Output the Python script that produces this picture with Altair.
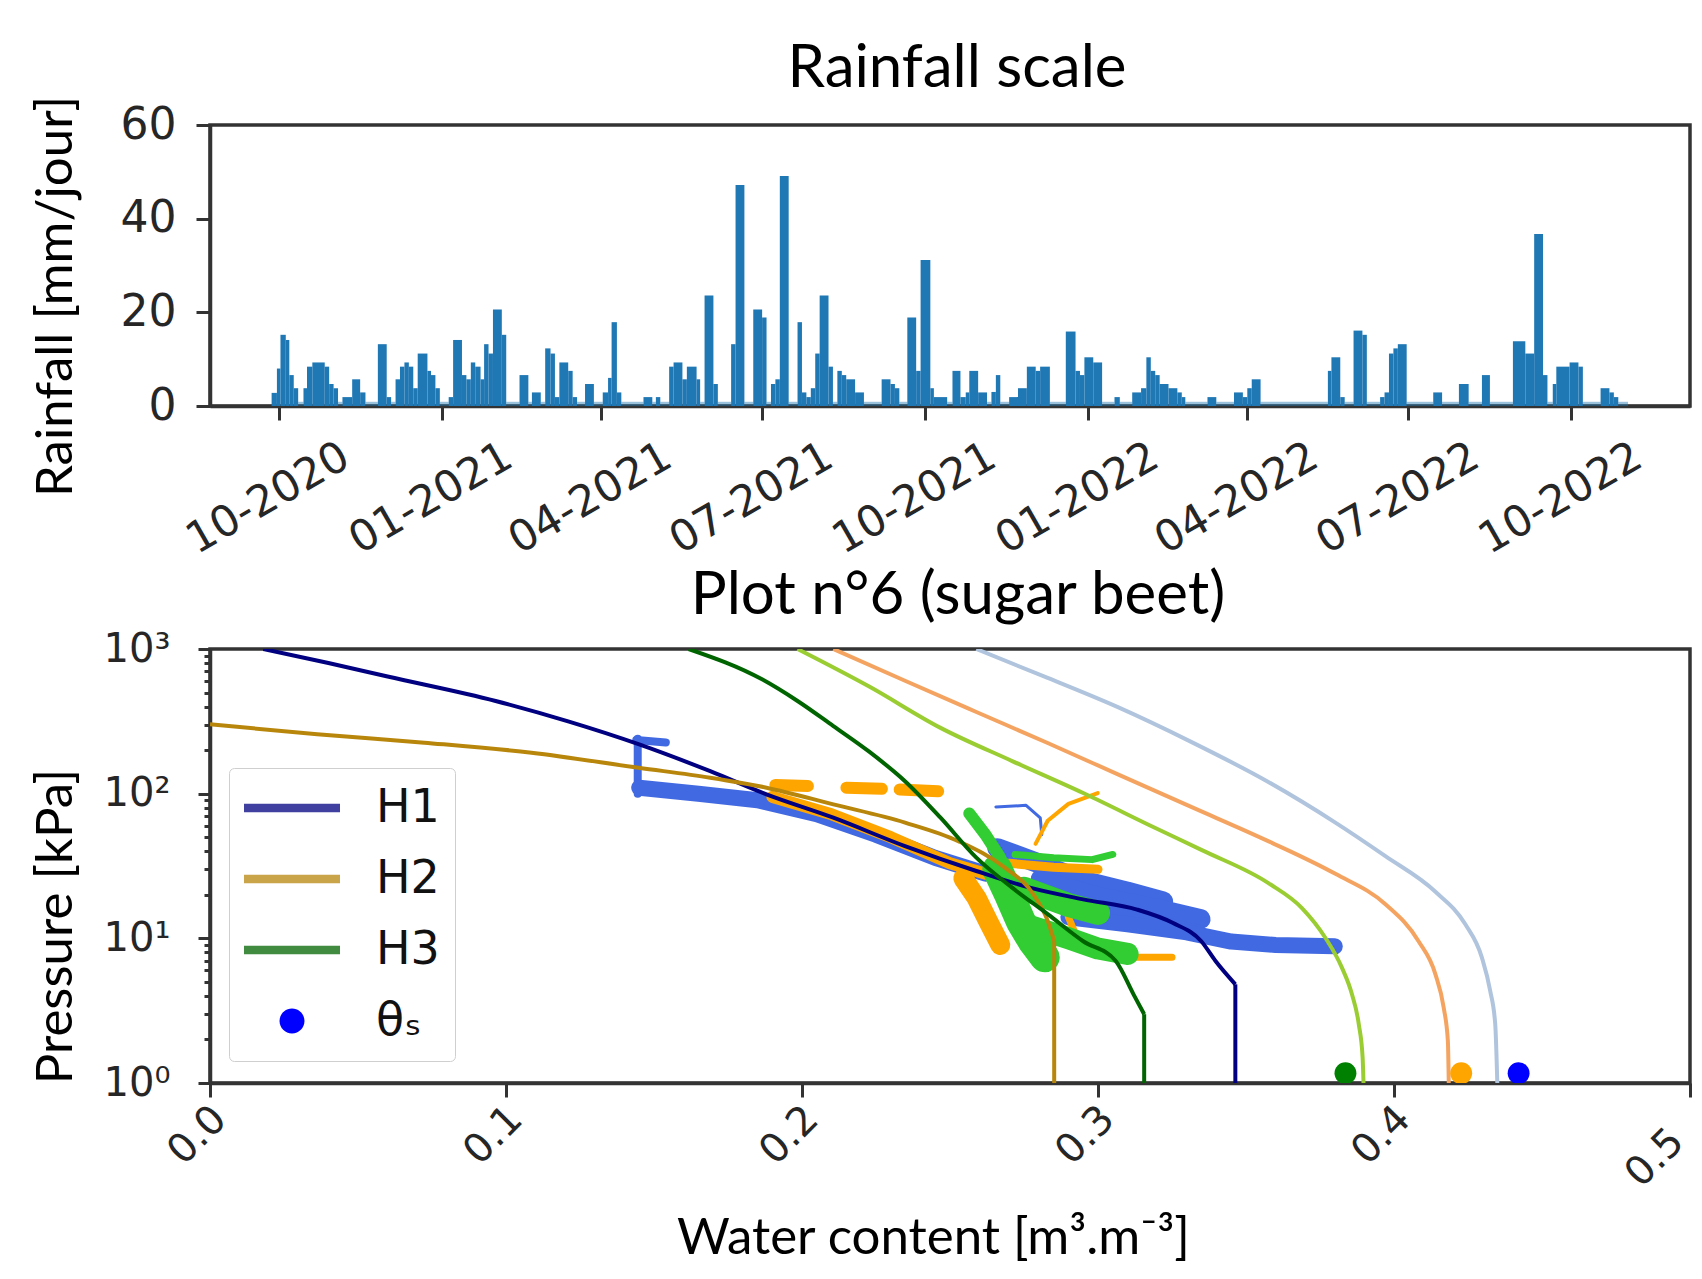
import altair as alt
import pandas as pd

# ---------------- Rainfall (top panel) ----------------
RAIN_ORIGIN = "2020-10-01"
# segment edges in days since RAIN_ORIGIN (n+1 values) and daily rainfall of each segment (n values)
rain_edges = [-4, -1, 1, 4, 6, 8.5, 11, 14, 16, 19, 26, 28.5, 31, 33.5, 36, 41.5, 46, 49, 56, 61,
              63.5, 66, 68.5, 71, 73.5, 76, 78.5, 84, 86, 88.5, 91, 96, 98.5, 103.5, 106, 108.5, 111,
              114, 116, 118.5, 121, 126, 128.5, 136, 141, 143, 148, 150.5, 153.5, 156, 158.5, 163.5,
              166, 168.5, 173, 178, 183, 186, 188, 191, 193.5, 206, 211, 213, 215.5, 220.5, 223, 228,
              230.5, 236, 238, 240.5, 245.5, 248, 255.5, 258, 263, 268, 273, 275.5, 278, 280.5, 283,
              288, 293, 295.5, 298, 300.5, 303, 305.5, 310.5, 313, 315.5, 318, 320.5, 325.5, 330.5,
              340.5, 345.5, 348, 350.5, 355, 360, 362.5, 368, 370, 377.5, 380.5, 385, 388, 390, 395,
              400, 402.5, 405, 407.5, 412.5, 417.5, 422.5, 427.5, 430, 435.5, 444.5, 450, 452.5, 455,
              460, 465, 472, 475, 482, 487, 490, 492.5, 495, 497.5, 502.5, 507.5, 510, 512, 524.5,
              529.5, 539.5, 544.5, 547, 549.5, 554.5, 592.5, 594.5, 599.5, 602, 607, 612, 614.5, 622,
              624.5, 627, 629.5, 632, 637, 652, 657, 666.5, 672, 679.5, 684, 697, 704, 709, 714,
              716.5, 719.5, 721.5, 729, 734, 736.5, 746.5, 751.5, 754, 756.5, 762]
rain_mm = [2.8, 8.0, 15.2, 14.1, 6.6, 3.8, 0.9, 3.8, 8.4, 9.3, 8.4, 4.7, 3.8, 0.9, 1.9, 5.7, 2.9, 0.9,
           13.2, 1.9, 0.9, 5.7, 8.4, 9.3, 8.4, 3.8, 11.2, 7.5, 6.6, 3.8, 0.9, 1.9, 14.1, 6.6, 5.7, 9.3,
           8.4, 5.7, 13.2, 11.2, 20.6, 15.2, 0.9, 6.6, 0.9, 2.9, 0.9, 12.3, 11.2, 1.9, 9.3, 7.5, 1.9,
           0.9, 4.7, 0.9, 2.9, 6.0, 17.9, 2.9, 0.9, 1.9, 0.9, 1.9, 0.9, 8.4, 9.3, 5.7, 8.4, 5.7, 0.9,
           23.6, 4.7, 0.9, 13.2, 47.2, 0.9, 20.6, 18.9, 0.9, 4.7, 5.7, 49.1, 0.9, 17.9, 2.9, 1.9, 3.8,
           11.2, 23.6, 8.4, 0.9, 7.5, 6.6, 5.7, 2.9, 0.9, 5.7, 4.7, 3.8, 0.9, 18.9, 7.5, 31.2, 3.8,
           1.9, 0.9, 7.5, 1.9, 2.9, 7.5, 2.9, 0.9, 3.0, 6.6, 0.9, 1.9, 3.8, 8.4, 7.5, 8.4, 0.9, 15.9,
           7.5, 6.6, 10.4, 9.3, 0.9, 1.9, 0.9, 2.9, 3.8, 10.4, 7.5, 6.6, 4.7, 3.8, 2.9, 1.9, 0.9, 1.9,
           0.9, 2.9, 1.9, 3.8, 5.7, 0.9, 7.5, 10.4, 1.9, 0.9, 16.1, 15.2, 0.9, 1.9, 2.9, 11.2, 12.3,
           13.2, 0.9, 2.9, 0.9, 4.7, 0.9, 6.6, 0.9, 13.8, 11.2, 36.7, 6.6, 0.9, 4.7, 8.4, 9.3, 8.4,
           0.9, 3.8, 2.9, 1.9, 0.9]
rain_ticks = [(2020, 10), (2021, 1), (2021, 4), (2021, 7), (2021, 10), (2022, 1), (2022, 4),
              (2022, 7), (2022, 10)]

# ---------------- Retention curves (bottom panel) ----------------
# fitted curves: water content theta [m3/m3] and pressure [kPa]
h1_theta = [0.018, 0.040, 0.060, 0.0965, 0.121, 0.145, 0.169, 0.188, 0.2106, 0.2348, 0.2589,
            0.277, 0.295, 0.3132, 0.3252, 0.3349, 0.3397, 0.3464, 0.3464]
h1_p = [1000, 800, 645, 437, 316, 219, 143, 98.9, 68.2, 43.4, 29.2, 22.4, 18.6, 15.8, 12.8,
        9.55, 6.97, 4.81, 1.0]
h2_theta = [0.0, 0.0362, 0.0724, 0.1086, 0.1448, 0.169, 0.188, 0.2106, 0.2348, 0.2528, 0.2685,
            0.2782, 0.283, 0.2852, 0.2852]
h2_p = [302, 257, 225, 192, 151, 129, 110, 84.3, 63.1, 47.0, 30.8, 20.1, 13.2, 9.55, 1.0]
h3_theta = [0.1617, 0.1865, 0.1985, 0.2106, 0.2227, 0.2348, 0.2468, 0.2589, 0.271, 0.283, 0.295,
            0.306, 0.312, 0.3156, 0.3156]
h3_p = [1000, 617, 437, 293, 195, 122, 68.2, 36.1, 22.4, 14.7, 9.55, 6.97, 4.10, 2.99, 1.0]
yg_theta = [0.1985, 0.2227, 0.2468, 0.271, 0.295, 0.3192, 0.3351, 0.3577, 0.3689, 0.3768, 0.3824,
            0.3858, 0.3881, 0.3894, 0.3897]
yg_p = [1000, 550, 285, 168, 101, 58.1, 40.7, 24.0, 16.2, 10.1, 6.27, 4.10, 2.55, 1.50, 1.0]
sb_theta = [0.2106, 0.2348, 0.2589, 0.283, 0.3071, 0.3313, 0.3577, 0.3802, 0.3971, 0.4083, 0.414,
            0.4168, 0.4182, 0.4185]
sb_p = [1000, 603, 367, 224, 135, 81.3, 46.8, 27.9, 17.2, 9.55, 5.64, 3.31, 1.95, 1.0]
ls_theta = [0.2589, 0.283, 0.3071, 0.3313, 0.3577, 0.3802, 0.3971, 0.414, 0.4241, 0.4297, 0.4325,
            0.4342, 0.4349]
ls_p = [1000, 631, 393, 229, 120, 63.1, 37.0, 21.0, 12.5, 7.35, 4.33, 2.55, 1.0]

# measured points (dense clouds, read as traces)
blue_traces = [
    ([0.1445, 0.1445], [240, 100]),
    ([0.144, 0.154], [235, 226]),
    ([0.145, 0.165, 0.185, 0.205, 0.225, 0.245, 0.262], [110, 100, 90, 72, 52, 36, 28]),
    ([0.266, 0.28, 0.295, 0.31, 0.322], [42, 33, 25, 21, 18]),
    ([0.285, 0.31, 0.335], [20, 16, 13.5]),
    ([0.28, 0.30, 0.32, 0.335], [26, 20, 16.5, 14]),
    ([0.29, 0.31, 0.33, 0.345, 0.36, 0.38], [14, 12.5, 11, 9.5, 9.0, 8.8]),
    ([0.2655, 0.2757, 0.2805, 0.281], [81, 83, 68, 52]),
]
orange_traces = [
    ([0.191, 0.202], [115, 113]),
    ([0.215, 0.227], [110, 108]),
    ([0.233, 0.246], [107, 104]),
    ([0.19, 0.21, 0.23, 0.25, 0.262], [95, 72, 50, 33, 28]),
    ([0.2545, 0.259, 0.263, 0.267], [26, 19, 13, 9.0]),
    ([0.2789, 0.283, 0.290, 0.2999], [45, 65, 85, 101]),
    ([0.27, 0.285, 0.30], [33, 31, 30]),
    ([0.31, 0.325], [7.4, 7.4]),
    ([0.29, 0.293], [14, 10]),
]
green_traces = [
    ([0.2565, 0.262, 0.267], [73, 52, 36]),
    ([0.266, 0.27, 0.274, 0.278, 0.282], [30, 20, 13, 9.5, 7.4]),
    ([0.278, 0.29, 0.30, 0.31], [12, 10, 8.5, 7.8]),
    ([0.272, 0.285, 0.298, 0.305], [38, 36, 35, 38]),
    ([0.275, 0.29, 0.30], [22, 17, 15]),
]
theta_s = [0.3836, 0.4227, 0.4421]
theta_s_p = [1.17, 1.17, 1.17]
theta_s_colors = ["#008000", "#ffa500", "#0000ff"]

legend_keys = ["H1", "H2", "H3", "\u03b8\u209b"]
legend_colors = ["#4040a0", "#caa448", "#408b40", "#0000ff"]

top_title = "Rainfall scale"
bottom_title = "Plot n\u00b06 (sugar beet)"

# ---------------- build ----------------
origin = pd.Timestamp(RAIN_ORIGIN)


def iso(d):
    return (origin + pd.Timedelta(hours=d * 24)).strftime("%Y-%m-%dT%H:%M:%SZ")


rain_df = pd.DataFrame({
    "start": [iso(d) for d in rain_edges[:-1]],
    "end": [iso(d) for d in rain_edges[1:]],
    "mm": rain_mm,
})

x_time = alt.Scale(type="utc",
                   domain=[alt.DateTime(year=2020, month=8, date=23, hours=5, utc=True),
                           alt.DateTime(year=2022, month=12, date=7, utc=True)])

bars = alt.Chart(rain_df).mark_rect(color="#1f77b4", clip=True).encode(
    x=alt.X("start:T", scale=x_time, title=None,
            axis=alt.Axis(values=[alt.DateTime(year=y, month=m, date=1, utc=True) for y, m in rain_ticks],
                          format="%m-%Y", labelAngle=330, labelAlign="center", labelBaseline="middle",
                          labelPadding=78, labelOffset=-11, tickSize=14, labelFlush=False,
                          labelOverlap=False, labelFontSize=43)),
    x2="end:T",
    y=alt.Y("mm:Q", scale=alt.Scale(domain=[0, 60], nice=False),
            axis=alt.Axis(values=[0, 20, 40, 60], tickSize=14, labelPadding=20, labelFontSize=44,
                          titleX=-154, titleY=171, titleAngle=270, titleBaseline="middle"),
            title="Rainfall [mm/jour]"),
    y2=alt.datum(0),
    opacity=alt.condition("datum.mm < 1", alt.value(0.45), alt.value(1.0)),
)
top_title_layer = alt.Chart(pd.DataFrame({"t": [top_title]})).mark_text(
    font="Lato", fontSize=60, baseline="middle", align="center", color="#000000").encode(
    text="t:N", x=alt.value(747), y=alt.value(-56))
top = alt.layer(bars, top_title_layer).properties(width=1480, height=281)

xs = alt.Scale(domain=[0, 0.5], nice=False)
ys = alt.Scale(type="log", domain=[1, 1000], nice=False)
log_vals = [1, 2, 3, 4, 5, 6, 7, 8, 9, 10, 20, 30, 40, 50, 60, 70, 80, 90,
            100, 200, 300, 400, 500, 600, 700, 800, 900, 1000]
label_expr = ("datum.value == 1 ? '10\u2070' : datum.value == 10 ? '10\u00b9' : "
              "datum.value == 100 ? '10\u00b2' : datum.value == 1000 ? '10\u00b3' : ''")

X_main = alt.X("theta:Q", scale=xs, title="Water content [m\u00b3.m\u207b\u00b3]",
               axis=alt.Axis(values=[0, 0.1, 0.2, 0.3, 0.4, 0.5], format=".1f", labelAngle=315,
                             labelAlign={"condition": {"test": "datum.value >= 0.5", "value": "right"},
                                         "value": "center"},
                             labelBaseline="middle", labelPadding=38,
                             labelOffset=-13, tickSize=14, labelFlush=False, labelOverlap=False,
                             labelFontSize=40, titleX=723, titleY=155, titleBaseline="middle"))
Y_main = alt.Y("p:Q", scale=ys, title="Pressure [kPa]",
               axis=alt.Axis(values=log_vals, labelExpr=label_expr, labelOverlap=False,
                             labelFontSize=40,
                             tickSize={"condition": {"test": "indexof([1,10,100,1000], datum.value) >= 0",
                                                     "value": 12}, "value": 6},
                             labelPadding=28, titleX=-154, titleY=277, titleAngle=270,
                             titleBaseline="middle"))


def line_layer(th, pp, color, width, cap="butt", interp="linear"):
    df = pd.DataFrame({"theta": th, "p": pp, "i": list(range(len(th)))})
    return alt.Chart(df).mark_line(color=color, strokeWidth=width, clip=True, strokeCap=cap,
                                   strokeJoin="round", interpolate=interp).encode(
        x=X_main, y=Y_main, order="i:Q")


layers = []
trace_w_blue = [8, 8, 16, 20, 18, 16, 16, 3]
trace_w_orange = [12, 12, 12, 12, 20, 4, 9, 7, 7]
trace_w_green = [12, 30, 22, 7, 24]
for (th, pp), w in zip(blue_traces, trace_w_blue):
    layers.append(line_layer(th, pp, "#4169e1", w, cap="round"))
for (th, pp), w in zip(orange_traces, trace_w_orange):
    layers.append(line_layer(th, pp, "#ffa500", w, cap="round"))
for (th, pp), w in zip(green_traces, trace_w_green):
    layers.append(line_layer(th, pp, "#32cd32", w, cap="round"))

layers.append(line_layer(yg_theta, yg_p, "#9acd32", 4, interp="monotone"))
layers.append(line_layer(sb_theta, sb_p, "#f4a460", 4, interp="monotone"))
layers.append(line_layer(ls_theta, ls_p, "#b0c4de", 4, interp="monotone"))
for th, pp, col in [(h1_theta, h1_p, "#000080"), (h2_theta, h2_p, "#b8860b"),
                    (h3_theta, h3_p, "#006400")]:
    layers.append(line_layer(th[:-1], pp[:-1], col, 4, interp="monotone"))
    layers.append(line_layer(th[-2:], pp[-2:], col, 4))

for th, pp, col in zip(theta_s, theta_s_p, theta_s_colors):
    layers.append(alt.Chart(pd.DataFrame({"theta": [th], "p": [pp]})).mark_circle(
        size=480, opacity=1, clip=True, color=col).encode(x=X_main, y=Y_main))

line_path = "M-1,-0.09L1,-0.09L1,0.09L-1,0.09Z"
dot_path = "M0,-0.26A0.26,0.26,0,1,1,0,0.26A0.26,0.26,0,1,1,0,-0.26Z"
leg_df = pd.DataFrame({"key": legend_keys, "theta": [0.25] * 4, "p": [1e6] * 4})
legend_layer = alt.Chart(leg_df).mark_point(filled=True, size=9216, opacity=1, clip=True).encode(
    x=X_main, y=Y_main,
    color=alt.Color("key:N", scale=alt.Scale(domain=legend_keys, range=legend_colors),
                    legend=alt.Legend(title=None, orient="none", legendX=19, legendY=119,
                                      direction="vertical", padding=15, cornerRadius=5,
                                      strokeColor="#cfcfcf", fillColor="white",
                                      labelFont="DejaVu Sans", labelFontSize=46, labelColor="#111",
                                      labelOffset=36, labelLimit=400, symbolSize=9216,
                                      symbolStrokeWidth=0, symbolOpacity=1, rowPadding=21,
                                      clipHeight=50)),
    shape=alt.Shape("key:N", scale=alt.Scale(domain=legend_keys,
                                             range=[line_path, line_path, line_path, dot_path]),
                    legend=alt.Legend(title=None)),
)
layers.append(legend_layer)
layers.append(alt.Chart(pd.DataFrame({"t": [bottom_title]})).mark_text(
    font="Lato", fontSize=60, baseline="middle", align="center", color="#000000").encode(
    text="t:N", x=alt.value(748), y=alt.value(-53)))

bottom = alt.layer(*layers).properties(width=1480, height=434)

chart = alt.vconcat(top, bottom, spacing=243, bounds="flush").resolve_scale(
    color="independent", shape="independent"
).resolve_legend(color="independent", shape="independent").properties(
    padding={"left": 20, "top": 29, "right": 0, "bottom": 0}
).configure_view(stroke="#333333", strokeWidth=3.5).configure_axis(
    domainColor="#333333", domainWidth=3.5, tickColor="#333333", tickWidth=3,
    labelFont="DejaVu Sans", labelFontSize=40, labelColor="#262626",
    titleFont="Lato", titleFontSize=51, titleColor="#000000", titleFontWeight="normal", grid=False
)

chart.save("out.html", embed_options={"renderer": "svg", "actions": False})
